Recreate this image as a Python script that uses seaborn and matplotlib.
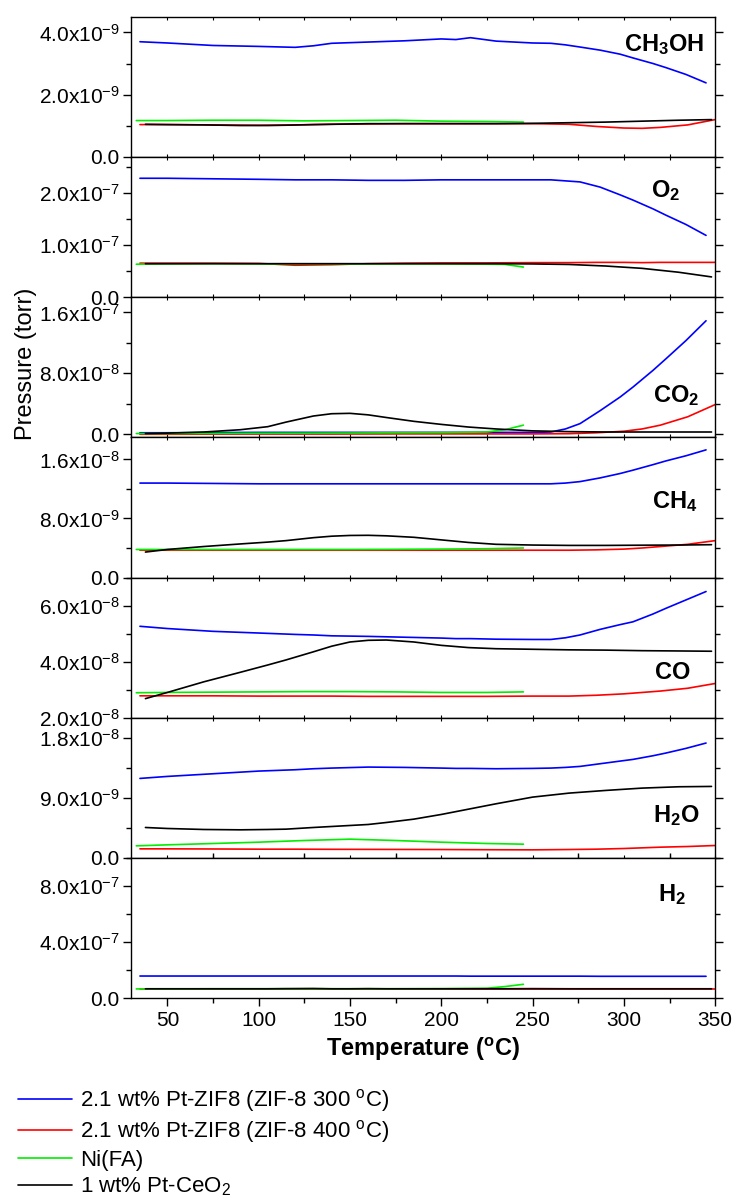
"""
Gas-phase products vs temperature for the four catalysts (seven stacked panels)
"""

import numpy as np
import pandas as pd
import matplotlib
matplotlib.use("Agg")
import matplotlib.pyplot as plt
import seaborn as sns
from matplotlib.ticker import FuncFormatter, MultipleLocator, AutoMinorLocator

# temperature grids (deg C) for each sample
T_zif300 = [35, 50, 75, 100, 120, 130, 140, 160, 180, 200, 208, 216, 230, 250, 260, 268, 276, 287, 298, 305, 316, 323, 334, 345]
T_zif400 = [35, 50, 75, 100, 120, 140, 160, 180, 200, 225, 250, 270, 285, 300, 310, 320, 335, 350]
T_nifa = [33, 50, 75, 100, 125, 150, 175, 200, 225, 235, 245]
T_ceo2 = [38, 50, 70, 90, 105, 115, 130, 140, 150, 160, 170, 185, 200, 215, 230, 250, 270, 290, 310, 330, 348]

samples = ["2.1 wt% Pt-ZIF8 (ZIF-8 300 $^{o}$C)",
           "2.1 wt% Pt-ZIF8 (ZIF-8 400 $^{o}$C)",
           "Ni(FA)",
           "1 wt% Pt-CeO$_2$"]
colors = ["#0000ff", "#ff0000", "#00ee00", "#000000"]

gases = ["CH$_3$OH", "O$_2$", "CO$_2$", "CH$_4$", "CO", "H$_2$O", "H$_2$"]

# CH3OH (x1e-9 torr)
ch3oh_zif300 = [3.70, 3.66, 3.58, 3.55, 3.52, 3.57, 3.65, 3.69, 3.73, 3.79, 3.77, 3.83, 3.72, 3.66, 3.65, 3.60, 3.53, 3.43, 3.30, 3.18, 3.00, 2.87, 2.65, 2.38]
ch3oh_zif400 = [1.04, 1.04, 1.03, 1.02, 1.03, 1.05, 1.06, 1.07, 1.07, 1.07, 1.07, 1.05, 0.98, 0.93, 0.92, 0.95, 1.03, 1.20]
ch3oh_nifa = [1.17, 1.17, 1.18, 1.18, 1.16, 1.17, 1.18, 1.15, 1.14, 1.13, 1.12]
ch3oh_ceo2 = [1.05, 1.04, 1.03, 1.01, 1.01, 1.02, 1.04, 1.05, 1.06, 1.07, 1.07, 1.07, 1.07, 1.07, 1.07, 1.08, 1.10, 1.12, 1.15, 1.18, 1.20]

# O2 (x1e-7 torr)
o2_zif300 = [2.29, 2.29, 2.28, 2.27, 2.26, 2.26, 2.26, 2.25, 2.25, 2.26, 2.26, 2.26, 2.26, 2.26, 2.26, 2.24, 2.22, 2.12, 1.97, 1.87, 1.70, 1.58, 1.40, 1.19]
o2_zif400 = [0.655, 0.655, 0.655, 0.65, 0.615, 0.625, 0.645, 0.655, 0.66, 0.66, 0.665, 0.665, 0.67, 0.67, 0.665, 0.67, 0.67, 0.67]
o2_nifa = [0.635, 0.64, 0.645, 0.64, 0.64, 0.64, 0.64, 0.64, 0.635, 0.63, 0.58]
o2_ceo2 = [0.645, 0.645, 0.645, 0.645, 0.645, 0.645, 0.645, 0.645, 0.645, 0.645, 0.645, 0.645, 0.645, 0.645, 0.645, 0.64, 0.63, 0.60, 0.555, 0.48, 0.39]

# CO2 (x1e-8 torr)
co2_zif300 = [0.2, 0.2, 0.22, 0.25, 0.25, 0.25, 0.25, 0.25, 0.25, 0.25, 0.25, 0.25, 0.25, 0.25, 0.3, 0.7, 1.4, 3.1, 4.9, 6.2, 8.4, 9.9, 12.3, 14.9]
co2_zif400 = [0.0, 0.0, 0.02, 0.03, 0.03, 0.03, 0.04, 0.05, 0.05, 0.05, 0.05, 0.08, 0.2, 0.4, 0.7, 1.2, 2.3, 3.9]
co2_nifa = [0.1, 0.1, 0.12, 0.14, 0.15, 0.17, 0.2, 0.22, 0.3, 0.6, 1.2]
co2_ceo2 = [0.1, 0.15, 0.3, 0.6, 1.0, 1.6, 2.4, 2.7, 2.75, 2.55, 2.2, 1.7, 1.3, 0.95, 0.7, 0.45, 0.35, 0.3, 0.3, 0.3, 0.3]

# CH4 (x1e-9 torr)
ch4_zif300 = [12.8, 12.8, 12.75, 12.7, 12.7, 12.7, 12.7, 12.7, 12.7, 12.7, 12.7, 12.7, 12.7, 12.7, 12.7, 12.8, 13.0, 13.5, 14.1, 14.55, 15.3, 15.8, 16.5, 17.3]
ch4_zif400 = [3.7, 3.7, 3.7, 3.7, 3.7, 3.7, 3.7, 3.7, 3.7, 3.7, 3.7, 3.7, 3.75, 3.85, 4.0, 4.2, 4.5, 5.0]
ch4_nifa = [3.8, 3.8, 3.8, 3.8, 3.8, 3.8, 3.82, 3.85, 3.9, 3.95, 4.0]
ch4_ceo2 = [3.45, 3.8, 4.2, 4.55, 4.8, 5.0, 5.4, 5.6, 5.7, 5.72, 5.65, 5.45, 5.1, 4.75, 4.5, 4.4, 4.35, 4.35, 4.38, 4.4, 4.45]

# CO (x1e-8 torr)
co_zif300 = [5.26, 5.18, 5.08, 5.02, 4.97, 4.95, 4.92, 4.90, 4.87, 4.84, 4.82, 4.82, 4.80, 4.79, 4.79, 4.85, 4.95, 5.15, 5.32, 5.42, 5.70, 5.90, 6.20, 6.50]
co_zif400 = [2.78, 2.78, 2.78, 2.77, 2.77, 2.77, 2.76, 2.76, 2.76, 2.76, 2.77, 2.77, 2.80, 2.85, 2.90, 2.95, 3.05, 3.22]
co_nifa = [2.89, 2.90, 2.91, 2.92, 2.93, 2.93, 2.92, 2.90, 2.90, 2.91, 2.92]
co_ceo2 = [2.68, 2.90, 3.28, 3.62, 3.88, 4.06, 4.35, 4.55, 4.70, 4.76, 4.77, 4.70, 4.58, 4.50, 4.46, 4.44, 4.42, 4.41, 4.39, 4.38, 4.37]

# H2O (x1e-9 torr)
h2o_zif300 = [11.9, 12.2, 12.6, 13.0, 13.2, 13.35, 13.45, 13.6, 13.55, 13.45, 13.4, 13.4, 13.35, 13.4, 13.45, 13.55, 13.7, 14.1, 14.5, 14.75, 15.3, 15.7, 16.4, 17.2]
h2o_zif400 = [1.35, 1.35, 1.33, 1.3, 1.3, 1.28, 1.27, 1.26, 1.25, 1.22, 1.2, 1.25, 1.3, 1.4, 1.5, 1.6, 1.7, 1.85]
h2o_nifa = [1.8, 1.95, 2.15, 2.35, 2.6, 2.8, 2.6, 2.35, 2.15, 2.1, 2.05]
h2o_ceo2 = [4.55, 4.4, 4.25, 4.2, 4.25, 4.3, 4.55, 4.7, 4.85, 5.0, 5.3, 5.8, 6.5, 7.3, 8.1, 9.1, 9.7, 10.1, 10.45, 10.65, 10.7]

# H2 (x1e-7 torr)
h2_zif300 = [1.57, 1.57, 1.57, 1.57, 1.57, 1.57, 1.57, 1.57, 1.57, 1.57, 1.57, 1.56, 1.56, 1.56, 1.56, 1.56, 1.56, 1.55, 1.55, 1.55, 1.55, 1.55, 1.55, 1.55]
h2_zif400 = [0.66] * 18
h2_nifa = [0.65, 0.65, 0.66, 0.66, 0.66, 0.66, 0.66, 0.67, 0.70, 0.82, 0.98]
h2_ceo2 = [0.66, 0.66, 0.66, 0.66, 0.66, 0.67, 0.68, 0.66, 0.66, 0.67, 0.66, 0.66, 0.66, 0.66, 0.66, 0.67, 0.66, 0.66, 0.66, 0.66, 0.66]

scales = [1e-9, 1e-7, 1e-8, 1e-9, 1e-8, 1e-9, 1e-7]
series = [
    [ch3oh_zif300, ch3oh_zif400, ch3oh_nifa, ch3oh_ceo2],
    [o2_zif300, o2_zif400, o2_nifa, o2_ceo2],
    [co2_zif300, co2_zif400, co2_nifa, co2_ceo2],
    [ch4_zif300, ch4_zif400, ch4_nifa, ch4_ceo2],
    [co_zif300, co_zif400, co_nifa, co_ceo2],
    [h2o_zif300, h2o_zif400, h2o_nifa, h2o_ceo2],
    [h2_zif300, h2_zif400, h2_nifa, h2_ceo2],
]
temps = [T_zif300, T_zif400, T_nifa, T_ceo2]

ylims = [(0, 4.5e-9), (0, 2.7e-7), (-4e-9, 1.8e-7), (0, 1.9e-8), (2e-8, 7e-8), (0, 2.1e-8), (0, 1e-6)]
ysteps = [2e-9, 1e-7, 8e-8, 8e-9, 2e-8, 9e-9, 4e-7]
label_pos = [(0.913, 0.80), (0.915, 0.76), (0.933, 0.30), (0.93, 0.54), (0.928, 0.32), (0.933, 0.30), (0.926, 0.74)]

sns.set_style("ticks")
plt.rcParams['font.family'] = ['Liberation Sans', 'DejaVu Sans']
plt.rcParams['mathtext.default'] = 'regular'
plt.rcParams['axes.linewidth'] = 1.0
for key in ['text.color', 'axes.labelcolor', 'xtick.color', 'ytick.color', 'axes.edgecolor']:
    plt.rcParams[key] = 'black'


def sci(v, pos):
    if abs(v) < 1e-15:
        return "0.0"
    e = int(np.floor(np.log10(abs(v)) + 1e-9))
    return f"{v / 10**e:.1f}x10$^{{{e}}}$"


fig, axes = plt.subplots(7, 1, figsize=(7.35, 12.01), dpi=100, sharex=True)
fig.subplots_adjust(left=0.178, right=0.973, top=0.986, bottom=0.169, hspace=0)

for i, ax in enumerate(axes):
    rows = []
    for name, T, vals in zip(samples, temps, series[i]):
        for t, v in zip(T, vals):
            rows.append((name, t, v * scales[i]))
    df = pd.DataFrame(rows, columns=["sample", "T", "P"])
    sns.lineplot(data=df, x="T", y="P", hue="sample", hue_order=samples,
                 palette=colors, estimator=None, sort=False, lw=1.2,
                 legend=False, ax=ax)
    ax.set_ylim(*ylims[i])
    ax.set_xlim(30, 350)
    ax.yaxis.set_major_locator(MultipleLocator(ysteps[i]))
    ax.yaxis.set_minor_locator(AutoMinorLocator(2))
    ax.yaxis.set_major_formatter(FuncFormatter(sci))
    ax.xaxis.set_major_locator(MultipleLocator(50))
    ax.xaxis.set_minor_locator(MultipleLocator(25))
    ax.tick_params(axis='y', which='major', direction='out', length=6, width=1, labelsize=15, pad=2)
    ax.tick_params(axis='y', which='minor', direction='out', length=3.5, width=1)
    ax.tick_params(axis='x', which='both', direction='in', length=2, width=0.8, top=True)
    ax.tick_params(axis='y', which='both', right=True, left=True)
    ax.set_xlabel("")
    ax.set_ylabel("")
    ax.text(label_pos[i][0], label_pos[i][1], gases[i], transform=ax.transAxes,
            ha='center', va='center', fontsize=17, fontweight='bold')
    for s in ax.spines.values():
        s.set_linewidth(1.0)
        s.set_color('black')

bottom = axes[-1]
bottom.tick_params(axis='x', which='major', direction='out', length=6, width=1,
                   labelsize=15, top=False, bottom=True)
bottom.tick_params(axis='x', which='minor', direction='out', length=3.5, width=1)
bottom.set_xlabel("Temperature ($^{o}$C)", fontsize=17, fontweight='bold', labelpad=4)

fig.text(0.035, 1 - 364 / 1201, "Pressure (torr)", rotation=90, ha='center', va='center', fontsize=17)

handles = bottom.get_lines()[:4]
fig.legend(handles, samples, loc='upper left', bbox_to_anchor=(0.024, 1 - 1087 / 1201),
           frameon=False, fontsize=16, handlelength=2.45, handletextpad=0.35,
           labelspacing=0.2, borderaxespad=0, borderpad=0)

plt.savefig("out.png", dpi=100)
plt.close()
